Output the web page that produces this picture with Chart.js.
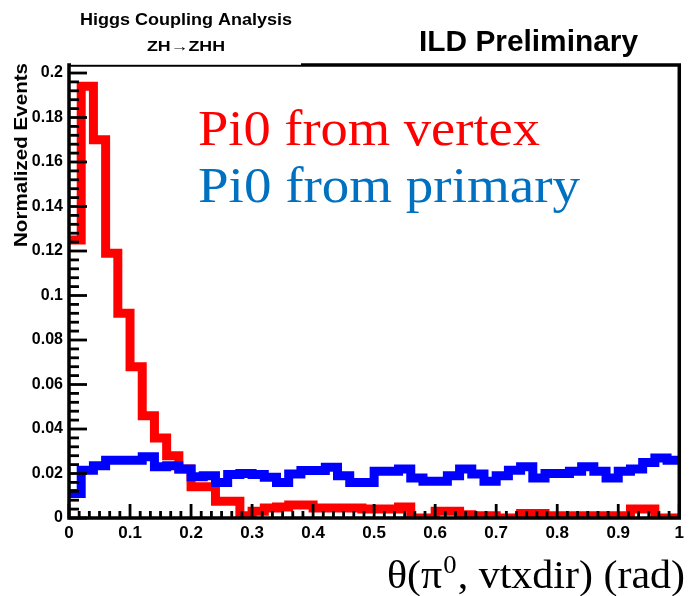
<!DOCTYPE html>
<html><head><meta charset="utf-8">
<script src="https://cdn.jsdelivr.net/npm/chart.js@4.4.1/dist/chart.umd.min.js"></script>
<style>html,body{margin:0;padding:0;background:#fff;overflow:hidden}canvas{display:block}</style>
</head><body>
<canvas id="c" width="689" height="596"></canvas>
<script>
// ---- data (50 bins of width 0.02 on [0,1]) ----
const binWidth = 0.02;
const vertexValues = [
  0.125, 0.194, 0.170, 0.119, 0.092, 0.068, 0.046, 0.036, 0.028, 0.022,
  0.014, 0.014, 0.0075, 0.0075, 0.001, 0.003, 0.0045, 0.005, 0.0058, 0.0058,
  0.0045, 0.0045, 0.0045, 0.0045, 0.004, 0.004, 0.004, 0.005, 0.0, 0.0,
  0.003, 0.003, 0.0015, 0.001, 0.001, 0.0, 0.0, 0.002, 0.002, 0.001,
  0.001, 0.001, 0.001, 0.001, 0.001, 0.001, 0.004, 0.004, 0.0, 0.0
];
const primaryValues = [
  0.011, 0.0215, 0.0235, 0.026, 0.026, 0.026, 0.0275, 0.023, 0.0235, 0.022,
  0.0185, 0.019, 0.016, 0.0195, 0.020, 0.0195, 0.0183, 0.016, 0.0198, 0.0213,
  0.0213, 0.0228, 0.019, 0.016, 0.016, 0.021, 0.021, 0.022, 0.018, 0.0165,
  0.0165, 0.019, 0.022, 0.0198, 0.0165, 0.019, 0.0215, 0.023, 0.018, 0.020,
  0.020, 0.021, 0.023, 0.021, 0.018, 0.021, 0.022, 0.025, 0.027, 0.026
];
const xTickLabels = ['0','0.1','0.2','0.3','0.4','0.5','0.6','0.7','0.8','0.9','1'];
const yTickLabels = ['0','0.02','0.04','0.06','0.08','0.1','0.12','0.14','0.16','0.18','0.2'];
const seriesNames = ['Pi0 from vertex','Pi0 from primary'];

// histogram outline points (step-before), from bin low edges, closed at the upper edge
function toSteps(values){
  const pts=values.map((v,i)=>({x:i*binWidth,y:v}));
  pts.push({x:values.length*binWidth,y:values[values.length-1]});
  return pts;
}

function fitText(ctx,text,x,y,font,width,color){
  ctx.save();
  ctx.font=font;
  const w=ctx.measureText(text).width;
  ctx.translate(x,y);
  ctx.scale(width/w,1);
  ctx.fillStyle=color;
  ctx.textAlign='left';
  ctx.textBaseline='alphabetic';
  ctx.fillText(text,0,0);
  ctx.restore();
}

const framePlugin={
  id:'rootFrame',
  afterDatasetsDraw(chart){
    const {ctx,chartArea:a,scales:{x,y}}=chart;
    ctx.save();
    ctx.strokeStyle='#000';
    ctx.lineCap='butt';
    ctx.lineWidth=2.8;
    for(let k=0;k<=50;k++){
      const v=k*0.004; if(v>0.2001) break;
      const py=y.getPixelForValue(v);
      const major=k%5===0;
      ctx.beginPath();ctx.moveTo(a.left,py);ctx.lineTo(a.left+(major?18:10),py);ctx.stroke();
    }
    for(let k=0;k<=60;k++){
      const px=x.getPixelForValue(k/60);
      const major=k%6===0;
      ctx.beginPath();ctx.moveTo(px,a.bottom);ctx.lineTo(px,a.bottom-(major?14:7));ctx.stroke();
    }
    ctx.lineWidth=3.5;
    ctx.strokeRect(a.left,a.top,a.right-a.left,a.bottom-a.top);
    ctx.fillStyle='#fff';
    ctx.fillRect(a.left+2,a.top-2,299-a.left,1.8);
    ctx.restore();
  },
  afterDraw(chart){
    const ctx=chart.ctx;
    fitText(ctx,seriesNames[0],198,145,'50px "Liberation Serif"',342,'#ff0000');
    fitText(ctx,seriesNames[1],198,202,'50px "Liberation Serif"',382,'#0070c0');
    fitText(ctx,'Higgs Coupling Analysis',80,25,'bold 16px "Liberation Sans"',212,'#000');
    fitText(ctx,'ZH\u2192ZHH',147,51,'bold 14px "Liberation Sans"',78,'#000');
    fitText(ctx,'ILD Preliminary',419,51,'bold 29px "Liberation Sans"',219,'#000');
    ctx.save();
    ctx.translate(27,247);
    ctx.rotate(-Math.PI/2);
    fitText(ctx,'Normalized Events',0,0,'bold 18px "Liberation Sans"',184,'#000');
    ctx.restore();
    ctx.save();
    const big='41px "Liberation Serif"', small='26px "Liberation Serif"';
    const p1='\u03b8(\u03c0', p2='0', p3=', vtxdir) (rad)';
    ctx.font=big; const w1=ctx.measureText(p1).width, w3=ctx.measureText(p3).width;
    ctx.font=small; const w2=ctx.measureText(p2).width;
    const total=w1+w2+2+w3, target=298, s=target/total;
    ctx.translate(387,588); ctx.scale(s,1);
    ctx.fillStyle='#000'; ctx.textBaseline='alphabetic';
    ctx.font=big; ctx.fillText(p1,0,0);
    ctx.font=small; ctx.fillText(p2,w1+1,-15);
    ctx.font=big; ctx.fillText(p3,w1+w2+2,0);
    ctx.restore();
  }
};

new Chart(document.getElementById('c'),{
  type:'line',
  data:{datasets:[
    {label:seriesNames[0],data:toSteps(vertexValues),borderColor:'#ff0000',borderWidth:9,stepped:'before',
     pointRadius:0,fill:false,order:2,borderJoinStyle:'miter',borderCapStyle:'butt',tension:0},
    {label:seriesNames[1],data:toSteps(primaryValues),borderColor:'#0000ff',borderWidth:9,stepped:'before',
     pointRadius:0,fill:false,order:1,borderJoinStyle:'miter',borderCapStyle:'butt',tension:0}
  ]},
  options:{
    responsive:false,animation:false,devicePixelRatio:1,
    layout:{padding:{top:65,right:6,left:0,bottom:0}},
    plugins:{legend:{display:false},tooltip:{enabled:false},title:{display:false}},
    scales:{
      x:{type:'linear',min:0,max:1,
         grid:{display:false,drawTicks:false},border:{display:false},
         ticks:{stepSize:0.1,autoSkip:false,maxRotation:0,padding:5,color:'#000',
                font:{family:'"Liberation Sans"',weight:'bold',size:17},
                callback:(v,i)=>xTickLabels[i]},
         afterFit:s=>{s.height=78;}},
      y:{type:'linear',min:0,max:0.2036,
         grid:{display:false,drawTicks:false},border:{display:false},
         ticks:{stepSize:0.02,includeBounds:false,autoSkip:false,padding:6,color:'#000',
                font:{family:'"Liberation Sans"',weight:'bold',size:16},
                callback:(v,i)=>yTickLabels[i]},
         afterFit:s=>{s.width=69;}}
    }
  },
  plugins:[framePlugin]
});
</script>
</body></html>
